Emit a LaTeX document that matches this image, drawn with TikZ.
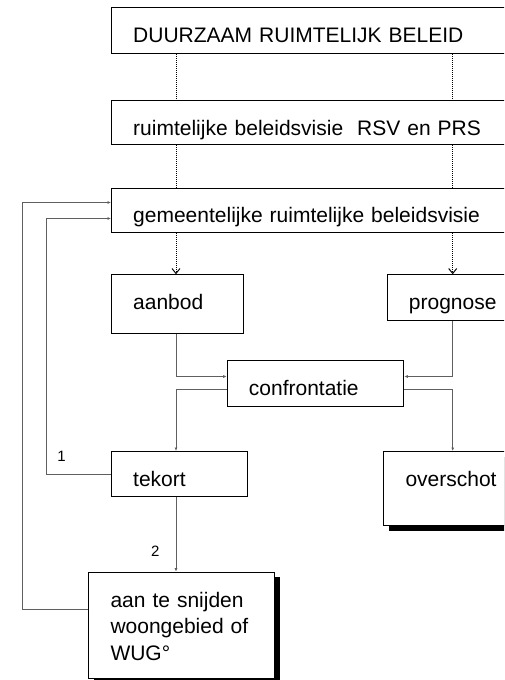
\documentclass[tikz,border=0pt]{standalone}
\usepackage{fontspec}
\setmainfont{Liberation Sans}
\usetikzlibrary{arrows.meta,shadows}
\definecolor{cgray}{RGB}{95,95,95}
\begin{document}
\begin{tikzpicture}[x=1pt,y=-1pt,
  bx/.style={draw=black, line width=1pt, fill=white, anchor=north west,
    inner xsep=21.7pt, inner ysep=0pt, align=left, text height=34.5pt,
    font=\fontsize{21pt}{26.5pt}\selectfont},
  shd/.style={drop shadow={shadow xshift=5pt, shadow yshift=-5pt, opacity=1, fill=black}},
  dotline/.style={black, line width=1pt, dash pattern=on 1pt off 1pt},
  dotarr/.style={dotline, -{Straight Barb[length=5pt,width=8pt,line width=1pt]}},
  conn/.style={draw=cgray, line width=0.8pt},
  carr/.style={conn, -{Latex[length=3.5pt,width=3pt]}},
  numlbl/.style={font=\fontsize{15pt}{18pt}\selectfont, inner sep=0pt, anchor=base}
]
\useasboundingbox (0,0) rectangle (504,680);
\clip (0,0) rectangle (504,680);

% boxes (right-hand boxes run past the page edge, as in the original)
\node[bx, text width=400pt, text depth=11.2pt] (b1) at (111,7.3) {DUURZAAM RUIMTELIJK BELEID};
\node[bx, text width=400pt, text depth=9.5pt] (b2) at (111,100) {ruimtelijke beleidsvisie~ RSV en PRS};
\node[bx, text width=400pt, text depth=10.1pt] (b3) at (111,187.7) {gemeentelijke ruimtelijke beleidsvisie};
\node[bx, text width=88.6pt, text depth=23.9pt] (aanbod) at (111,274.3) {aanbod};
\node[bx, text width=140pt, text depth=11.2pt] (prognose) at (386.7,274.3) {prognose};
\node[bx, text width=133.2pt, text depth=10.9pt] (confr) at (226.7,360.3) {confrontatie};
\node[bx, text width=92.3pt, text depth=10.5pt] (tekort) at (111,451) {tekort};
\node[bx, shd, text width=140pt, text depth=39.5pt] (overschot) at (383.3,451) {overschot};
\node[bx, shd, text width=142.6pt, text height=35pt, text depth=71.6pt] (aan) at (88.3,571.7) {aan te snijden\\woongebied of\\WUG°};

% labels
\node[numlbl] (n1) at (61.5,461.7) {1};
\node[numlbl] (n2) at (155.3,556.7) {2};

% helper columns
\coordinate (cl) at (176,0);
\coordinate (cr) at (452.7,0);
\coordinate (l1) at (46.7,0);
\coordinate (l2) at (22.3,0);

% dotted connectors
\draw[dotline] (b1.south -| cl) -- (b2.north -| cl);
\draw[dotline] (b1.south -| cr) -- (b2.north -| cr);
\draw[dotline] (b2.south -| cl) -- (b3.north -| cl);
\draw[dotline] (b2.south -| cr) -- (b3.north -| cr);
\draw[dotarr] (b3.south -| cl) -- (aanbod.north -| cl);
\draw[dotarr] (b3.south -| cr) -- (prognose.north -| cr);

% solid connectors
\draw[carr] (aanbod.south -| cl) |- ([yshift=7pt]confr.west);
\draw[carr] (prognose.south -| cr) |- ([yshift=7pt]confr.east);
\draw[carr] ([yshift=-6.3pt]confr.west) -| (tekort.north -| cl);
\draw[carr] ([yshift=-6.3pt]confr.east) -| (overschot.north -| cr);
\draw[carr] (tekort.south -| cl) -- (aan.north -| cl);
\draw[carr] (tekort.west) -- (tekort.west -| l1) -- ([yshift=-8pt]b3.west -| l1) -- ([yshift=-8pt]b3.west);
\draw[carr] ([yshift=16pt]aan.west) -- ([yshift=16pt]aan.west -| l2) -- ([yshift=8pt]b3.west -| l2) -- ([yshift=8pt]b3.west);
\end{tikzpicture}
\end{document}
